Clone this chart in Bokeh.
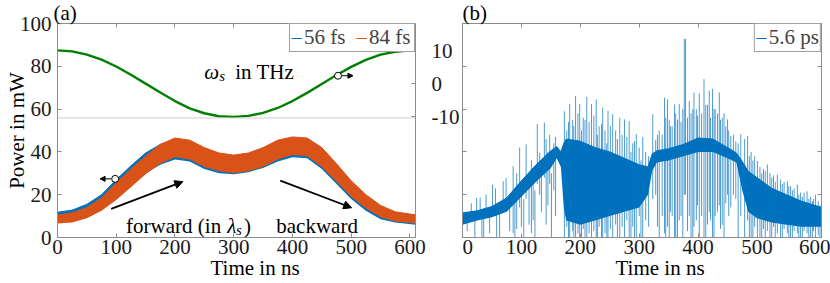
import numpy as np
from bokeh.plotting import figure
from bokeh.models import (Range1d, LinearAxis, FixedTicker, Span, Label, Arrow,
                          NormalHead, Legend, LegendItem, Title)
from bokeh.layouts import row
from bokeh.embed import file_html
from bokeh.resources import INLINE

BLUE = "#0072BD"
ORANGE = "#D95319"
GREEN = "#008000"
FONT = "Liberation Serif"
AX = "#8c8c8c"
TXT = "#1a1a1a"

# ---------------- data: panel (a) ----------------
t_band = [0, 25, 50, 75, 100, 125, 150, 175, 200, 225, 250, 275, 300, 325, 350,
          375, 400, 425, 450, 475, 500, 525, 550, 575, 610]
fs56_lo = [7.0, 7.5, 9.5, 13.0, 18.5, 24.5, 30.0, 34.0, 36.5, 35.5, 32.0, 30.0, 29.5,
           30.5, 32.5, 35.5, 37.5, 37.0, 32.0, 25.0, 18.0, 12.5, 8.5, 7.0, 6.0]
fs56_hi = [11.8, 12.8, 15.5, 20.0, 27.0, 33.5, 39.5, 43.5, 45.5, 44.0, 40.5, 38.5, 38.0,
           39.0, 41.5, 44.5, 46.0, 45.5, 41.0, 33.5, 25.5, 19.0, 14.0, 11.5, 10.5]
fs84_lo = [6.5, 7.0, 9.0, 12.5, 17.5, 23.5, 29.5, 34.5, 37.5, 36.5, 33.0, 31.0, 30.0,
           31.0, 33.0, 36.5, 38.5, 38.0, 33.0, 26.0, 19.0, 13.5, 9.5, 7.5, 6.5]
fs84_hi = [10.5, 11.5, 14.0, 18.5, 25.5, 32.0, 38.0, 43.5, 46.5, 45.5, 42.0, 39.5, 38.5,
           39.5, 42.0, 45.5, 47.0, 46.5, 42.0, 34.5, 26.5, 20.0, 15.0, 12.0, 10.5]

t_omega = [0, 25, 50, 75, 100, 125, 150, 175, 200, 225, 250, 275, 300, 325, 350,
           375, 400, 425, 450, 475, 500, 525, 550, 575, 600, 610]
omega_s = [10.1, 9.8, 8.8, 7.3, 5.2, 2.7, 0.0, -2.7, -5.3, -7.5, -9.0, -9.9, -10.1,
           -9.8, -8.9, -7.4, -5.3, -2.8, -0.1, 2.6, 5.1, 7.2, 8.8, 9.7, 10.1, 10.1]

# ---------------- data: panel (b) ----------------
t_core = [0, 25, 50, 75, 100, 125, 150, 160, 167, 172, 176, 200, 225, 250, 275, 300,
          315, 322, 330, 350, 375, 400, 425, 450, 465, 475, 485, 500, 525, 550, 575, 610]
ps56_lo = [6.0, 8.0, 9.5, 12.0, 19.0, 26.0, 32.5, 37.0, 33.0, 14.0, 8.0, 6.0, 8.0, 10.0,
           12.0, 14.0, 20.0, 31.0, 35.0, 36.0, 38.0, 40.0, 40.0, 37.0, 35.0, 22.0, 12.0,
           9.0, 7.0, 6.0, 5.0, 5.0]
ps56_hi = [11.5, 12.5, 14.5, 18.5, 26.5, 34.0, 40.5, 42.5, 40.0, 44.0, 46.0, 45.0, 42.0,
           40.0, 37.0, 34.0, 33.0, 39.0, 40.5, 41.5, 43.5, 46.5, 46.0, 42.0, 39.5, 35.5,
           31.0, 28.0, 23.0, 20.0, 17.0, 14.0]

spike_t = [8, 15, 21, 24, 30, 33, 40, 46, 51, 56, 63, 69, 74, 80, 86, 89, 97, 100, 108,
           113, 120, 127, 131, 134, 139, 145, 148, 155,
           173, 177, 182, 187, 192, 196, 199, 205, 211, 215, 219, 223, 227, 232, 238,
           242, 247, 251, 255, 260, 267, 271, 275, 279, 283, 289, 295, 300, 306, 311, 316,
           323, 328, 334, 339, 343, 348, 351, 356, 360, 365, 368, 374, 376.5, 378.5, 382,
           385, 388, 393, 397, 402, 406, 410, 416, 419, 424.5, 429, 433, 436, 441, 447,
           450, 455.5, 460, 464, 472.5,
           479, 484, 490, 496, 500.7, 505, 511, 517.6, 522, 528, 534.6, 540, 546, 551.5,
           557, 563, 568.5, 574, 580, 585, 591, 596, 599.4, 604,
           36, 58, 92, 104, 117, 123, 142, 151, 158,
           180, 189, 202, 208, 229, 236, 245, 263, 286, 292, 303,
           331, 345, 353, 362, 371, 391, 399, 413, 421, 427, 438, 444, 452, 468,
           487, 493, 508, 514, 525, 531, 543, 554, 560, 571, 577, 588, 594, 607]
spike_lo = [3, 9, 0, 10, 9, 0, 10, 2, 11, 10, 0, 12, 12, 3, 2, 0, 14, 5, 18,
            6, 8, 25, 20, 12, 28, 15, 25, 22,
            0, 5, 0, 3, 0, 2, 0, 4, 0, 2, 0, 3, 0, 5, 0,
            2, 0, 4, 0, 6, 0, 5, 0, 8, 0, 5, 0, 10, 0, 8, 5,
            18, 20, 0, 10, 2, 5, 0, 10, 0, 0, 8, 0, 20, 20, 3,
            10, 0, 5, 8, 0, 10, 0, 6, 12, 0, 10, 12, 15, 6, 16,
            20, 14, 20, 18, 10,
            0, 8, 0, 5, 2, 0, 4, 3, 0, 5, 2, 0, 4, 2,
            0, 3, 2, 0, 3, 2, 0, 3, 2, 1,
            0, 0, 4, 0, 2, 0, 6, 0, 10,
            0, 0, 0, 0, 0, 0, 0, 0, 0, 0, 0,
            5, 0, 12, 0, 10, 0, 15, 0, 8, 0, 4, 0, 10, 0,
            0, 0, 0, 0, 0, 0, 0, 0, 0, 0, 0, 0, 0, 0]
spike_hi = [12, 16, 12, 18.5, 18.7, 11, 20, 13, 24.7, 23, 13, 26.3, 27.8, 16, 33.3, 20,
            42, 25, 43.5, 28, 30, 53, 39.6, 34, 53.7, 40, 48, 44,
            59, 50, 62.4, 55, 66.2, 58, 62.4, 56, 65.7, 54, 62.4, 57, 64.6, 52, 60.6,
            50, 59.2, 52, 57.6, 50, 56, 48, 55.2, 47, 54.4, 44, 48.3, 42, 46.9, 40, 38,
            57.6, 45.6, 50, 48, 65.4, 64.6, 55, 52, 62.2, 55, 62.4, 60, 92.8, 92.8, 56,
            63.8, 58, 67.7, 60, 67.3, 58, 74, 62, 68.6, 69.4, 60, 58, 67.8, 56, 52,
            55.2, 47.4, 48, 45, 48.2,
            46, 47.4, 40, 38, 35.7, 33, 32, 34.1, 30, 29, 29.4, 27, 26, 26.3,
            24, 23, 24.7, 21, 21, 21.6, 19, 18, 20, 17,
            10, 12, 30, 18, 36, 22, 46, 30, 47,
            54, 52, 50, 55, 48, 53, 44, 46, 40, 45, 36,
            48, 56, 52, 58, 54, 60, 57, 62, 56, 60, 55, 58, 50, 44,
            38, 36, 30, 31, 28, 26, 25, 24, 22, 20, 19, 18, 17, 15]

x_ticks = [0, 100, 200, 300, 400, 500, 600]
y_ticks = [0, 20, 40, 60, 80, 100]
omega_ticks = [-10, 0, 10]
omega_tick_labels = {-10: "-10", 0: "0", 10: "10"}

X_MAX = 609.5


def style_axis(ax, labels=True):
    ax.major_tick_in = 4
    ax.major_tick_out = 0
    ax.minor_tick_line_color = None
    ax.axis_line_color = AX
    ax.major_tick_line_color = AX
    ax.major_label_text_font = FONT
    ax.major_label_text_color = TXT
    if labels:
        ax.major_label_text_font_size = "21px"
    else:
        ax.major_label_text_font_size = "0px"
        ax.major_label_text_color = None
        ax.major_label_standoff = 0


def base_fig(width, left, right, panel, panel_offset):
    p = figure(width=width, height=283, x_range=Range1d(0, X_MAX), y_range=Range1d(0, 100),
               output_backend="svg", toolbar_location=None,
               min_border_left=left, min_border_right=right,
               min_border_top=23, min_border_bottom=46)
    p.grid.visible = False
    p.outline_line_color = AX
    p.background_fill_color = "white"
    p.border_fill_color = "white"
    p.xaxis.ticker = FixedTicker(ticks=x_ticks)
    p.yaxis.ticker = FixedTicker(ticks=y_ticks)
    style_axis(p.xaxis[0])
    style_axis(p.yaxis[0])
    p.xaxis.major_label_standoff = 2
    p.yaxis.major_label_standoff = 6
    top = LinearAxis(ticker=FixedTicker(ticks=x_ticks))
    style_axis(top, labels=False)
    p.add_layout(top, "above")
    p.add_layout(Title(text=panel, align="left", offset=panel_offset, standoff=-6,
                       vertical_align="top", text_font=FONT, text_font_size="21px",
                       text_font_style="normal", text_color="black"), "above")
    p.add_layout(Title(text="Time in ns", align="left", offset=153, standoff=-2,
                       vertical_align="top", text_font=FONT, text_font_size="21px",
                       text_font_style="normal", text_color="black"), "below")
    return p


def lab(p, x, y, text, size="21px", style="normal", **kw):
    p.add_layout(Label(x=x, y=y, text=text, text_font=FONT, text_font_size=size,
                       text_font_style=style, text_color="black",
                       text_baseline="alphabetic", text_align="left", **kw))


# ================= panel (a) =================
p1 = base_fig(462, 57, 45, "(a)", -4)
p1.yaxis.axis_label = "Power in mW"
p1.yaxis.axis_label_text_font = FONT
p1.yaxis.axis_label_text_font_size = "21px"
p1.yaxis.axis_label_text_font_style = "normal"
p1.yaxis.axis_label_text_color = "black"
p1.yaxis.axis_label_standoff = -12

p1.extra_y_ranges = {"w": Range1d(-46.77, 18.28)}
ax_w = LinearAxis(y_range_name="w", ticker=FixedTicker(ticks=omega_ticks))
style_axis(ax_w)
ax_w.major_label_overrides = omega_tick_labels
ax_w.major_label_standoff = 16
ax_w.major_label_text_align = "center"
p1.add_layout(ax_w, "right")

p1.varea(x=t_band, y1=fs56_lo, y2=fs56_hi, fill_color=BLUE)
r56 = p1.line(x=t_band, y=fs56_hi, line_color=BLUE, line_width=1)
p1.varea(x=t_band, y1=fs84_lo, y2=fs84_hi, fill_color=ORANGE)
r84 = p1.line(x=t_band, y=fs84_hi, line_color=ORANGE, line_width=1)
p1.line(x=t_omega, y=omega_s, y_range_name="w", line_color=GREEN, line_width=2.4)
p1.add_layout(Span(location=-10.43, dimension="width", y_range_name="w",
                   line_color="#cfcfcf", line_width=1))

# annotation markers (circle + small arrow pointing to the axis each curve belongs to)
p1.scatter(x=[477.6], y=[2.4], y_range_name="w", marker="circle", size=7,
           fill_color="white", line_color="black", line_width=1)
p1.add_layout(Arrow(end=NormalHead(size=5, fill_color="black", line_color="black"),
                    x_start=484, y_start=2.4, x_end=503, y_end=2.4, y_range_name="w",
                    line_color="black", line_width=1))
p1.scatter(x=[98.2], y=[27.4], marker="circle", size=7,
           fill_color="white", line_color="black", line_width=1)
p1.add_layout(Arrow(end=NormalHead(size=5, fill_color="black", line_color="black"),
                    x_start=91.5, y_start=27.4, x_end=72.5, y_end=27.4,
                    line_color="black", line_width=1))

# direction arrows
p1.add_layout(Arrow(end=NormalHead(size=8, fill_color="black", line_color="black"),
                    x_start=91.4, y_start=13.4, x_end=213.4, y_end=26.1,
                    line_color="black", line_width=1.8))
p1.add_layout(Arrow(end=NormalHead(size=8, fill_color="black", line_color="black"),
                    x_start=379.3, y_start=26.6, x_end=500.8, y_end=13.9,
                    line_color="black", line_width=1.8))

lab(p1, 250.0, 77.2, "ω", style="italic")
lab(p1, 275.5, 75.3, "s", size="15px", style="italic")
lab(p1, 302.5, 77.2, "in THz")
lab(p1, 116.8, 5.2, "forward (in")
lab(p1, 288.8, 5.2, "λ", style="italic")
lab(p1, 304.0, 3.5, "s", size="15px", style="italic")
lab(p1, 317.5, 5.2, ")")
lab(p1, 372.5, 5.2, "backward")

leg1 = Legend(items=[LegendItem(label="56 fs", renderers=[r56]),
                     LegendItem(label="84 fs", renderers=[r84])],
              orientation="horizontal", location="top_right", padding=1, margin=0,
              spacing=8, glyph_width=11, glyph_height=14, label_standoff=2,
              label_width=44, label_height=14, label_text_font=FONT,
              label_text_font_size="21px", border_line_color="#444444",
              border_line_width=1, background_fill_alpha=1)
p1.add_layout(leg1)

# ================= panel (b) =================
p2 = base_fig(368, 0, 9, "(b)", 0)
p2.yaxis.major_label_text_font_size = "0px"
p2.yaxis.major_label_text_color = None
p2.yaxis.major_label_standoff = 0
rax = LinearAxis(ticker=FixedTicker(ticks=y_ticks))
style_axis(rax, labels=False)
p2.add_layout(rax, "right")

p2.varea(x=t_core, y1=ps56_lo, y2=ps56_hi, fill_color=BLUE)
r56ps = p2.line(x=t_core, y=ps56_hi, line_color=BLUE, line_width=1)
p2.segment(x0=spike_t, y0=spike_lo, x1=spike_t, y1=spike_hi, line_color=BLUE,
           line_alpha=0.7, line_width=1)

leg2 = Legend(items=[LegendItem(label="5.6 ps", renderers=[r56ps])],
              orientation="horizontal", location="top_right", padding=1, margin=0,
              glyph_width=11, glyph_height=14, label_standoff=2, label_height=14,
              label_text_font=FONT, label_text_font_size="21px",
              border_line_color="#444444", border_line_width=1, background_fill_alpha=1)
p2.add_layout(leg2)

layout = row(p1, p2)
html = file_html(layout, INLINE, title="power")
html = html.replace("</head>", "<style>html,body{margin:0;padding:0;}</style></head>", 1)
open("out.html", "w").write(html)
